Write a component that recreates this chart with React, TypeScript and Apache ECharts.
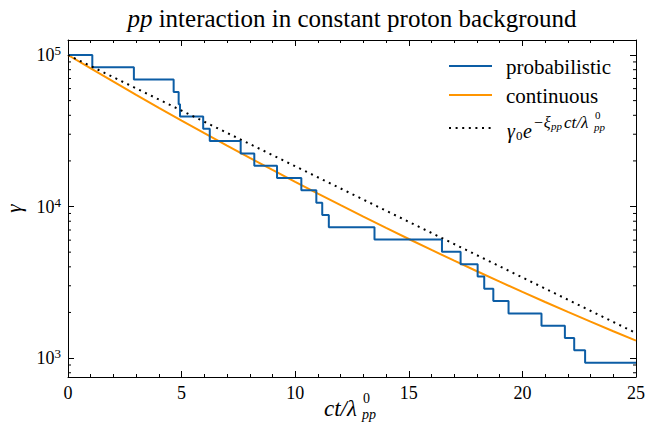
import React, { useEffect, useRef } from "react";
import * as echarts from "echarts";

// Probabilistic (Monte Carlo) history: time of each interaction and the Lorentz factor after it
const eventTimes = [0, 1.07, 2.9, 4.65, 4.87, 4.93, 5.95, 6.24, 7.6, 8.2, 9.2, 10.27, 10.93, 11.19, 11.48, 13.49, 16.46, 17.28, 18.03, 18.32, 18.72, 19.39, 20.84, 21.87, 22.28, 22.76];
const gammaLevels = [100000, 82950, 68810, 57070, 47340, 39270, 32570, 27020, 22410, 18590, 15420, 12790, 10610, 8800, 7300, 6053, 5021, 4165, 3455, 2866, 2377, 1972, 1636, 1357, 1125, 933];
const tEnd = 25;

// Continuous energy-loss solution
const contT = [0, 1, 2, 3, 4, 5, 6, 7, 8, 9, 10, 11, 12, 13, 14, 15, 16, 17, 18, 19, 20, 21, 22, 23, 24, 25];
const contGamma = [100000, 81520, 66620, 54590, 44840, 36940, 30500, 25250, 20950, 17430, 14540, 12160, 10200, 8573, 7224, 6104, 5170, 4391, 3739, 3192, 2732, 2344, 2016, 1739, 1503, 1303];

// Pure exponential reference gamma0 * exp(-xi ct / lambda)
const expT = [0, 5, 10, 15, 20, 25];
const expGamma = [100000, 42950, 18450, 7925, 3404, 1462];

// Axis ranges and log minor ticks
const xMin = 0;
const xMax = 25;
const yMin = 750;
const yMax = 125600;
const yMinorTicks = [800, 900, 2000, 3000, 4000, 5000, 6000, 7000, 8000, 9000, 20000, 30000, 40000, 50000, 60000, 70000, 80000, 90000];

const BLUE = "#0C5DA5";
const ORANGE = "#FF9500";
const FAMILY = "'Liberation Serif', serif";

const font = (size: number, italic = false) => `${italic ? "italic " : ""}${size}px ${FAMILY}`;

export default function App() {
  const ref = useRef<HTMLDivElement>(null);

  useEffect(() => {
    if (!ref.current) return;
    const chart = echarts.init(ref.current, null, { renderer: "svg" });

    const stepData = eventTimes.map((t, i) => [t, gammaLevels[i]]);
    stepData.push([tEnd, gammaLevels[gammaLevels.length - 1]]);

    const axisLine = { show: true, onZero: false, lineStyle: { color: "#000", width: 1 } };
    const tick = { show: true, inside: true, length: 6, lineStyle: { color: "#000", width: 1 } };

    const xBase = {
      type: "value",
      min: xMin,
      max: xMax,
      interval: 5,
      axisLine,
      axisTick: tick,
      minorTick: { show: true, splitNumber: 5, length: 3, lineStyle: { color: "#000", width: 1 } },
      splitLine: { show: false },
      minorSplitLine: { show: false },
    };
    const yBase = {
      type: "log",
      logBase: 10,
      min: yMin,
      max: yMax,
      axisLine,
      axisTick: tick,
      splitLine: { show: false },
    };

    const text = (x: number, y: number, s: string, size: number, italic = false, align = "left") => ({
      type: "text",
      x,
      y,
      silent: true,
      style: {
        text: s,
        font: font(size, italic),
        fill: "#000",
        align,
        verticalAlign: "middle",
      },
    });

    chart.setOption({
      animation: false,
      textStyle: { fontFamily: FAMILY },
      grid: { left: 68, right: 24, top: 40, bottom: 58, containLabel: false, outerBoundsMode: "none" },
      xAxis: [
        {
          ...xBase,
          position: "bottom",
          axisLabel: { show: true, color: "#000", fontSize: 18, fontFamily: FAMILY, margin: 7 },
        },
        { ...xBase, position: "top", axisLabel: { show: false } },
      ],
      yAxis: [
        {
          ...yBase,
          position: "left",
          name: "γ",
          nameLocation: "middle",
          nameRotate: 90,
          nameGap: 44,
          nameTextStyle: { fontSize: 21, fontStyle: "italic", fontFamily: FAMILY, color: "#000" },
          axisLabel: {
            show: true,
            showMinLabel: false,
            showMaxLabel: false,
            margin: 7,
            formatter: (v: number) => `{b|10}{s|${Math.round(Math.log10(v))}}`,
            rich: {
              b: { fontSize: 18, fontFamily: FAMILY, color: "#000" },
              s: { fontSize: 13, fontFamily: FAMILY, color: "#000", padding: [0, 0, 9, 0] },
            },
          },
        },
        { ...yBase, position: "right", axisLabel: { show: false } },
      ],
      series: [
        {
          name: "probabilistic",
          type: "line",
          step: "end",
          data: stepData,
          symbol: "none",
          lineStyle: { color: BLUE, width: 2 },
          z: 3,
        },
        {
          name: "continuous",
          type: "line",
          data: contT.map((t, i) => [t, contGamma[i]]),
          symbol: "none",
          lineStyle: { color: ORANGE, width: 2 },
          z: 2,
        },
        {
          name: "exponential",
          type: "line",
          data: expT.map((t, i) => [t, expGamma[i]]),
          symbol: "none",
          lineStyle: { color: "#000", width: 2, type: [2, 4.6] },
          z: 4,
        },
        {
          // matplotlib-style log minor ticks on both y spines
          type: "custom",
          silent: true,
          clip: false,
          data: yMinorTicks.map((v) => [xMin, v]),
          encode: { x: 0, y: 1 },
          renderItem: (_p: any, api: any) => {
            const v = api.value(1);
            const l = api.coord([xMin, v]);
            const r = api.coord([xMax, v]);
            const st = { stroke: "#000", lineWidth: 1 };
            return {
              type: "group",
              children: [
                { type: "line", shape: { x1: l[0], y1: l[1], x2: l[0] + 3, y2: l[1] }, style: st },
                { type: "line", shape: { x1: r[0], y1: r[1], x2: r[0] - 3, y2: r[1] }, style: st },
              ],
            };
          },
        },
      ],
      graphic: [
        // title
        {
          type: "text",
          x: 352,
          y: 18,
          silent: true,
          style: {
            text: "{i|pp}{n| interaction in constant proton background}",
            fill: "#000",
            align: "center",
            verticalAlign: "middle",
            rich: {
              i: { font: font(25, true) },
              n: { font: font(25) },
            },
          },
        },
        // x axis label: ct / lambda^0_pp
        text(324, 408, "ct/λ", 23, true, "left"),
        text(363, 398, "0", 14, false, "left"),
        text(362, 414, "pp", 14, true, "left"),
        // legend
        { type: "line", shape: { x1: 449, y1: 66, x2: 492, y2: 66 }, style: { stroke: BLUE, lineWidth: 2 }, silent: true },
        text(506, 67, "probabilistic", 21, false, "left"),
        { type: "line", shape: { x1: 449, y1: 95, x2: 492, y2: 95 }, style: { stroke: ORANGE, lineWidth: 2 }, silent: true },
        text(506, 96, "continuous", 21, false, "left"),
        { type: "line", shape: { x1: 449, y1: 128, x2: 492, y2: 128 }, style: { stroke: "#000", lineWidth: 2, lineDash: [2, 4.6] }, silent: true },
        text(507, 131, "γ", 20, true, "left"),
        text(516, 135, "0", 13, false, "left"),
        text(523, 131, "e", 20, true, "left"),
        text(533, 122, "−ξ", 16, true, "left"),
        text(551, 126, "pp", 11, true, "left"),
        text(564, 122, "ct/λ", 17, true, "left"),
        text(595, 115, "0", 11, false, "left"),
        text(594, 127, "pp", 11, true, "left"),
      ],
    });

    return () => chart.dispose();
  }, []);

  return <div ref={ref} style={{ width: 660, height: 435, position: "absolute", left: 0, top: 0 }} />;
}
